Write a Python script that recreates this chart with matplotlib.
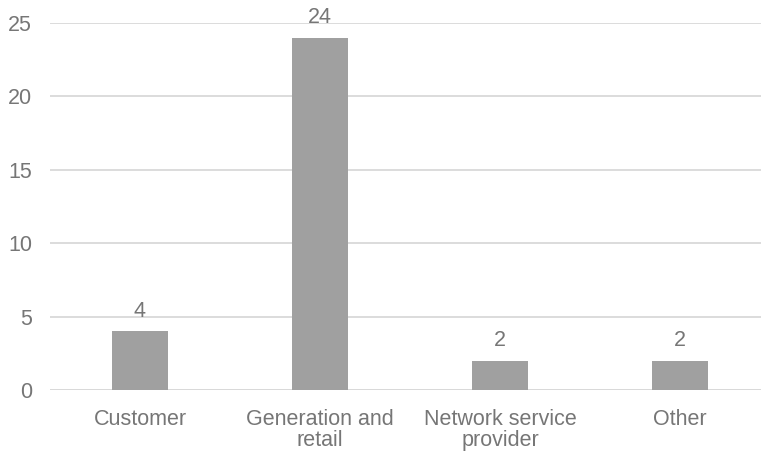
import matplotlib.pyplot as plt

categories = ['Customer', 'Generation and\nretail', 'Network service\nprovider', 'Other']
counts = [4, 24, 2, 2]
yticks = [0, 5, 10, 15, 20, 25]

text_color = '#767676'
plt.rcParams['font.family'] = ['Liberation Sans', 'DejaVu Sans']

fig = plt.figure(figsize=(7.61, 4.54), dpi=100)
W, H = 761, 454
ax = fig.add_axes([50 / W, (H - 390) / H, 720 / W, (390 - 23) / H])

x = range(len(categories))
bars = ax.bar(x, counts, width=0.31, color='#a0a0a0', zorder=3)
for b, v in zip(bars, counts):
    ax.annotate(str(v), (b.get_x() + b.get_width() / 2, v), xytext=(0, 7),
                textcoords='offset points', ha='center', va='bottom',
                fontsize=15.5, color=text_color)

ax.set_xlim(-0.5, len(categories) - 0.5)
ax.set_ylim(0, 25)
ax.set_yticks(yticks)
ax.set_xticks(list(x))
ax.set_xticklabels(categories, linespacing=1.0)
ax.tick_params(axis='both', length=0, labelsize=15.5, colors=text_color)
ax.tick_params(axis='y', pad=13)
ax.tick_params(axis='x', pad=14)
ax.grid(axis='y', color='#d9d9d9', linewidth=1.3, zorder=0)
for s in ax.spines.values():
    s.set_visible(False)
ax.axhline(0, color='#d9d9d9', linewidth=1.3, zorder=1)

fig.savefig('out.png', dpi=100)
